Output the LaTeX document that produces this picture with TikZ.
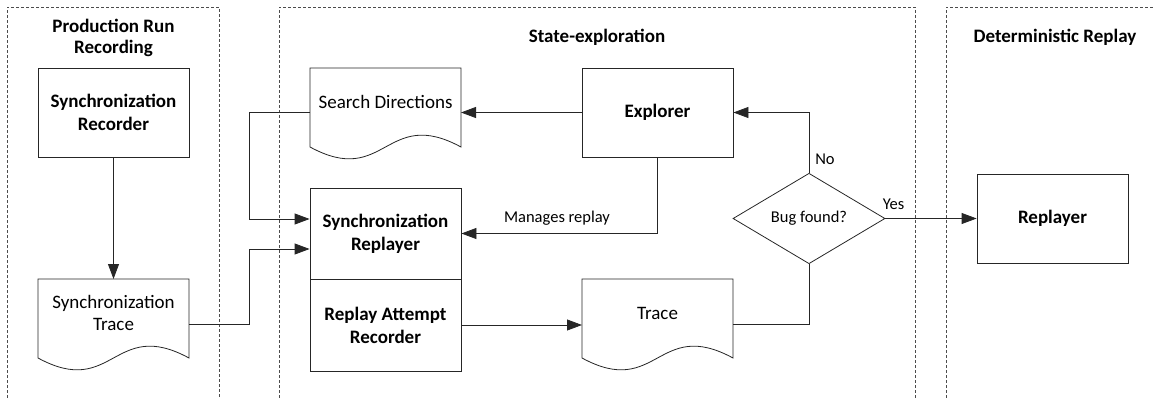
\documentclass[tikz,border=0pt]{standalone}
\usepackage{fontspec}
\setmainfont{Carlito}
\usetikzlibrary{arrows.meta,shapes.geometric,calc}
\newcommand{\docoutline}[1]{%
  \draw[boxline] ($(#1.center)+(-75.5,-34)$) coordinate (#1-nw)
    -- ($(#1.center)+(75.5,-34)$) coordinate (#1-ne)
    -- ($(#1.center)+(75.5,45)$)
    .. controls ($(#1.center)+(0,4)$) and ($(#1.center)+(0,86)$) ..
    ($(#1.center)+(-75.5,45)$) -- cycle;
  \coordinate (#1-n) at ($(#1.center)+(0,-34)$);
}
\tikzset{
  boxline/.style={draw=black!85, line width=0.8pt},
  box/.style={boxline, minimum width=151pt, minimum height=89pt, align=center,
    inner sep=0pt, font={\fontsize{19}{23}\selectfont\bfseries}},
  doctext/.style={align=center, inner sep=0pt, minimum width=151pt,
    font={\fontsize{19}{22}\selectfont}},
  decision/.style={boxline, diamond, minimum width=152pt, minimum height=89pt,
    inner sep=0pt, font={\fontsize{16.5}{20}\selectfont}},
  conn/.style={draw=black!85, line width=0.8pt},
  arr/.style={conn, -{Triangle[length=15pt,width=11pt]}},
  panel/.style={draw=black!70, line width=0.6pt, dash pattern=on 3pt off 2pt},
  paneltitle/.style={align=center, font={\fontsize{19}{21}\selectfont\bfseries}},
  lab/.style={inner sep=0pt, font={\fontsize{16.5}{20}\selectfont}}
}
\begin{document}
\begin{tikzpicture}[x=1pt,y=-1pt]
\useasboundingbox (0,0) rectangle (1153,398);
% panels
\draw[panel] (7,398) -- (7,7) -- (219,7) -- (219,398);
\draw[panel] (279,398) -- (279,7) -- (915,7) -- (915,398);
\draw[panel] (946,398) -- (946,7) -- (1153,7);
\node[paneltitle] (t1) at (113.5,37.5) {Production Run\\Recording};
\node[paneltitle] (t2) at (597,37) {State-exploration};
\node[paneltitle] (t3) at (1055,37) {Deterministic Replay};
% boxes
\node[box] (sr) at (113.5,112.5) {Synchronization\\Recorder};
\node[box] (ex) at (657.5,112.5) {Explorer};
\node[box, minimum height=91pt] (srp) at (385.5,233.5) {Synchronization\\Replayer};
\node[box, minimum height=92pt] (rar) at (385.5,325) {Replay Attempt\\Recorder};
\node[box] (rp) at (1052.5,218.5) {Replayer};
\node[decision] (bf) at (809,218.5) {Bug found?};
% documents
\node[doctext] (sd) at (385.5,102) {Search Directions};
\docoutline{sd}
\node[doctext] (st) at (113.5,313) {Synchronization\\Trace};
\docoutline{st}
\node[doctext] (tr) at (657.5,313) {Trace};
\docoutline{tr}
% helper coordinates
\coordinate (bus) at (249,0);
\coordinate (in1) at ($(srp.west)+(0,-14.5)$);
\coordinate (in2) at ($(srp.west)+(0,15.5)$);
\coordinate (sdw) at (ex.west -| sd-nw);
\coordinate (stE) at ($(st.center)+(75.5,11)$);
\coordinate (trE) at ($(tr.center)+(75.5,11)$);
% connectors
\draw[arr] (sr.south) -- (st-n);
\draw[arr] (ex.west) -- (ex.west -| sd-ne);
\draw[arr] (sdw) -- (sdw -| bus) -- (bus |- in1) -- (in1);
\draw[arr] (stE) -- (stE -| bus) -- (bus |- in2) -- (in2);
\draw[arr] (ex.south) |- (srp.east);
\node[lab] (mr) at (557,218) {Manages replay};
\draw[arr] (rar.east) -- (rar.east -| tr-nw);
\draw[conn] (trE) -| (bf.south);
\draw[arr] (bf.north) |- (ex.east);
\node[lab] (no) at (825,159) {No};
\draw[arr] (bf.east) -- (rp.west);
\node[lab] (yes) at (893.5,204) {Yes};
\end{tikzpicture}
\end{document}
